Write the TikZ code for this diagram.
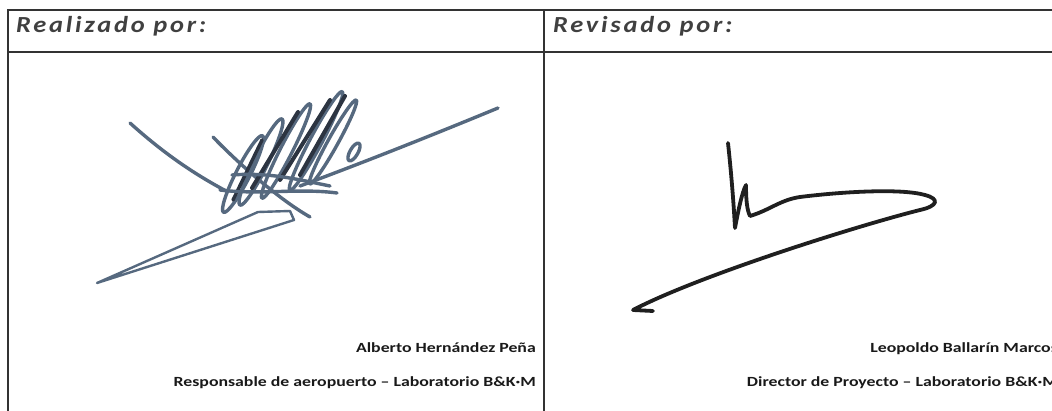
\documentclass[tikz,border=0pt]{standalone}
\usepackage{fontspec}
\setmainfont{Carlito}
\newfontfamily\headfont{Carlito}[FakeStretch=1.15, LetterSpace=12]
\newfontfamily\namefont{Carlito}[FakeStretch=1.27]
\colorlet{rule line}{black!80}
\definecolor{blue ink}{HTML}{56697F}
\definecolor{dark ink}{HTML}{2C3441}
\colorlet{black ink}{black!88}
\tikzset{
  rule/.style={draw=rule line, line width=2.2pt},
  heading/.style={anchor=base west, inner sep=0pt, text=black!75,
    font=\headfont\bfseries\itshape\fontsize{23}{23}\selectfont},
  signer/.style={anchor=base east, inner sep=0pt, text=black!90,
    font=\namefont\bfseries\fontsize{14}{14}\selectfont},
  scrawl/.style={draw=blue ink, line width=3.4pt, line cap=round, line join=round},
  stroke/.style={draw=black ink, line width=3.8pt, line cap=round, line join=round}
}

\begin{document}
\begin{tikzpicture}[x=1pt, y=-1pt]
    \useasboundingbox (0,0) rectangle (1052,411);
    \clip (0,0) rectangle (1052,411);
    % table rules
    \draw[rule] (8,411) -- (8,10) -- (1052,10);
    \draw[rule] (8,52) -- (1052,52);
    \draw[rule] (544,10) -- (544,411);
    % headings
    \node[heading] (made) at (16,33) {Realizado por:};
    \node[heading] (checked) at (553,33) {Revisado por:};
    % first signature
    \draw[scrawl] (130,123) .. controls (160,150) and (190,172) .. (228,192);
    \draw[scrawl] (300,186) .. controls (370,160) and (440,132) .. (498,108);
    \draw[scrawl, line width=2.4pt] (97,283) -- (258,212) -- (290,211) -- (294,220) -- cycle;
    \draw[scrawl] (213,137) .. controls (240,165) and (280,200) .. (310,217);
    \foreach \cx/\cy/\len/\wid/\ang in {243/174/43/7/63, 261/162/48/7/64,
        286/151/53/6/63, 316/141/56/6/62, 333/142/48/5/61}
      \draw[scrawl, rotate around={\ang:(\cx,\cy)}] (\cx,\cy) ellipse [x radius=\len, y radius=\wid];
    \draw[scrawl, draw=dark ink, line width=4pt] (252,188) -- (298,112);
    \draw[scrawl, draw=dark ink, line width=4pt] (280,180) -- (330,100);
    \draw[scrawl, draw=dark ink, line width=4pt] (300,175) -- (345,96);
    \draw[scrawl, draw=dark ink] (233,200) -- (262,140);
    \draw[scrawl] (220,190) .. controls (260,195) and (300,188) .. (337,193);
    \draw[scrawl] (232,175) .. controls (270,172) and (300,180) .. (330,186);
    \draw[scrawl, rotate around={60:(354,152)}] (354,152) ellipse [x radius=10, y radius=4];
    % second signature
    \draw[stroke] (728,143) .. controls (732,180) and (734,210) .. (735,228)
        .. controls (738,212) and (742,192) .. (746,185)
        .. controls (746,200) and (747,210) .. (750,216)
        .. controls (770,210) and (780,200) .. (800,197)
        .. controls (840,192) and (900,188) .. (925,195)
        .. controls (940,199) and (938,206) .. (920,210)
        .. controls (860,225) and (700,275) .. (633,310)
        -- (653,311);
    % names
    \node[signer] (nameA) at (536,353) {Alberto Hernández Peña};
    \node[signer] (roleA) at (536,387) {Responsable de aeropuerto – Laboratorio B\&K·M};
    \node[signer] (nameB) at (1058,353) {Leopoldo Ballarín Marcos};
    \node[signer] (roleB) at (1058,387) {Director de Proyecto – Laboratorio B\&K·M};
\end{tikzpicture}
\end{document}
